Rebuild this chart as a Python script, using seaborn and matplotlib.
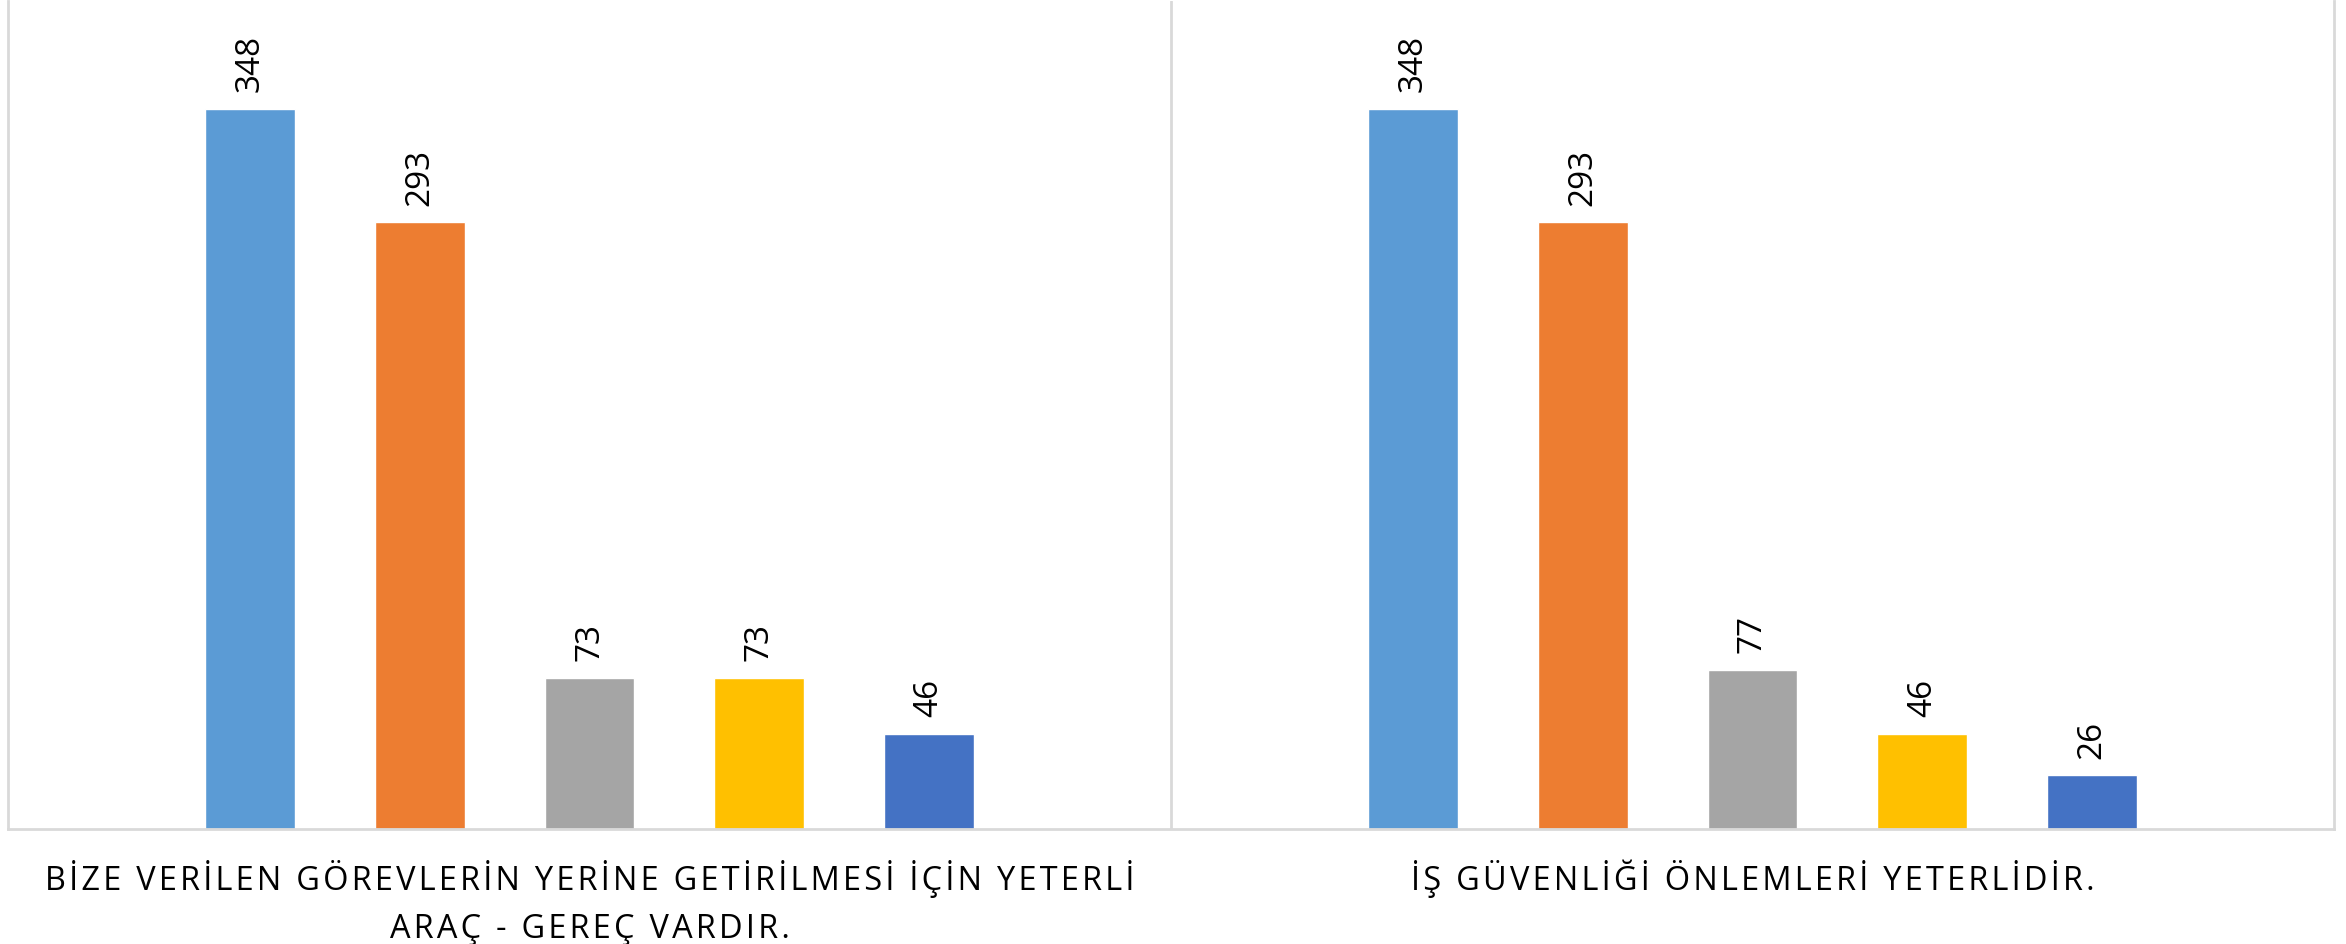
import pandas as pd
import matplotlib.pyplot as plt
import seaborn as sns

# Data
categories = ["BİZE VERİLEN GÖREVLERİN YERİNE GETİRİLMESİ İÇİN YETERLİ\nARAÇ - GEREÇ VARDIR.",
              "İŞ GÜVENLİĞİ ÖNLEMLERİ YETERLİDİR."]
series = ["Katılıyorum", "Kesinlikle Katılıyorum", "Kararsızım",
          "Katılmıyorum", "Kesinlikle Katılmıyorum"]
values_q1 = [348, 293, 73, 73, 46]
values_q2 = [348, 293, 77, 46, 26]
colors = ["#5B9BD5", "#ED7D31", "#A5A5A5", "#FFC000", "#4472C4"]

rows = []
for cat, vals in zip(categories, [values_q1, values_q2]):
    for s, v in zip(series, vals):
        rows.append({"category": cat, "series": s, "value": v})
df = pd.DataFrame(rows)


def spaced(text):
    # fake letter spacing with hair spaces
    return "\n".join("\u200a".join(line) for line in text.split("\n"))


sns.set_style("white")
plt.rcParams['font.family'] = ['Open Sans', 'DejaVu Sans']

fig = plt.figure(figsize=(23.46, 9.44), dpi=100)
ax = fig.add_axes([8 / 2346, 115 / 944, 2326 / 2346, 828 / 944])

sns.barplot(data=df, x="category", y="value", hue="series", order=categories,
            hue_order=series, palette=colors, width=0.73, gap=0.47,
            saturation=1, legend=False, ax=ax)

for cont in ax.containers:
    ax.bar_label(cont, rotation=90, padding=12, fontsize=24, color="black")

ax.set_ylim(0, 400)
ax.set_xlim(-0.5, 1.5)
ax.axvline(0.5, color="#D9D9D9", lw=2, zorder=0)
for side in ["left", "right", "bottom"]:
    ax.spines[side].set_visible(True)
    ax.spines[side].set_color("#D9D9D9")
    ax.spines[side].set_linewidth(2)
ax.spines["top"].set_visible(False)

ax.set_yticks([])
ax.tick_params(axis="x", length=0, pad=22)
ax.set_xticks([0, 1])
ax.set_xticklabels([spaced(c) for c in categories], fontsize=23.4,
                   linespacing=1.6, color="black")
ax.set_xlabel("")
ax.set_ylabel("")

fig.savefig("out.png", dpi=100)
